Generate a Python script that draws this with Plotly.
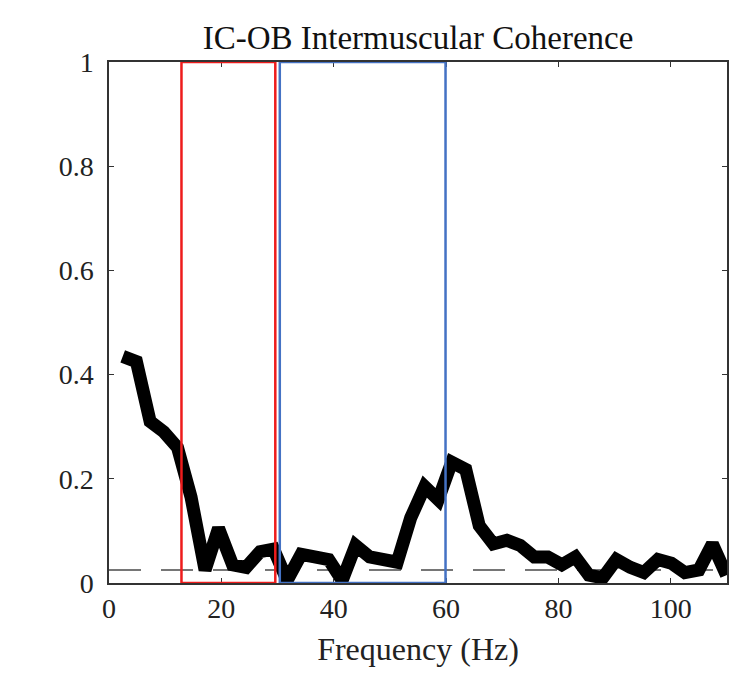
import plotly.graph_objects as go

freq = [2.44, 4.88, 7.32, 9.77, 12.2, 14.6, 17.1, 19.5, 22.0, 24.4, 26.9, 29.3,
        31.7, 34.2, 36.6, 39.1, 41.5, 43.9, 46.4, 48.8, 51.3, 53.7, 56.2, 58.6,
        61.0, 63.5, 65.9, 68.4, 70.8, 73.2, 75.7, 78.1, 80.6, 83.0, 85.4, 87.9,
        90.3, 92.8, 95.2, 97.7, 100.1, 102.5, 105.0, 107.4, 109.9]
coherence = [0.435, 0.425, 0.31, 0.29, 0.26, 0.165, 0.025, 0.105, 0.035, 0.03, 0.06, 0.065,
             0.005, 0.055, 0.05, 0.045, 0.005, 0.072, 0.05, 0.045, 0.04, 0.125, 0.185, 0.16,
             0.232, 0.218, 0.11, 0.075, 0.082, 0.072, 0.05, 0.05, 0.035, 0.05, 0.015, 0.01,
             0.045, 0.03, 0.02, 0.045, 0.038, 0.02, 0.025, 0.075, 0.015]
threshold = 0.025
x_range = [0, 110]
beta_band = [12.9, 29.6]
gamma_band = [30.4, 59.9]
x_ticks = [0, 20, 40, 60, 80, 100]
y_ticks = [0, 0.2, 0.4, 0.6, 0.8, 1]
y_tick_labels = ["0", "0.2", "0.4", "0.6", "0.8", "1"]

font_family = "Liberation Serif, Times New Roman, serif"

fig = go.Figure()
fig.add_trace(go.Scatter(x=x_range, y=[threshold, threshold], mode="lines",
                         line=dict(color="#4a4a4a", width=1.5, dash="32px,20px"),
                         showlegend=False, hoverinfo="skip"))
fig.add_trace(go.Scatter(x=freq, y=coherence, mode="lines",
                         line=dict(color="black", width=13),
                         showlegend=False))

fig.add_shape(type="rect", xref="x", yref="y", x0=beta_band[0], x1=beta_band[1], y0=0, y1=1,
              line=dict(color="#ee1c1c", width=2.5), layer="above")
fig.add_shape(type="rect", xref="x", yref="y", x0=gamma_band[0], x1=gamma_band[1], y0=0, y1=1,
              line=dict(color="#4472c4", width=2.5), layer="above")

fig.update_layout(
    width=751, height=680,
    margin=dict(l=109, r=24, t=62, b=97),
    plot_bgcolor="white", paper_bgcolor="white",
    font=dict(family=font_family, size=28, color="#222222"),
    title=dict(text="IC-OB Intermuscular Coherence", x=0.5, xref="paper", xanchor="center",
               y=1 - 37 / 680, yref="container", yanchor="middle",
               font=dict(family=font_family, size=33, color="#111111")),
    xaxis=dict(range=x_range, tickvals=x_ticks, ticks="inside", ticklen=5, tickwidth=1,
               tickcolor="#333333", showline=True, linecolor="#333333", linewidth=1.5,
               mirror="ticks", showgrid=False, zeroline=False,
               title=dict(text="Frequency (Hz)", standoff=14, font=dict(size=32))),
    yaxis=dict(range=[0, 1], tickvals=y_ticks, ticktext=y_tick_labels, ticks="inside",
               ticklen=5, tickwidth=1, tickcolor="#333333", showline=True,
               linecolor="#333333", linewidth=1.5, mirror="ticks", showgrid=False,
               zeroline=False, ticklabelstandoff=8),
)

fig.write_html("out.html")
